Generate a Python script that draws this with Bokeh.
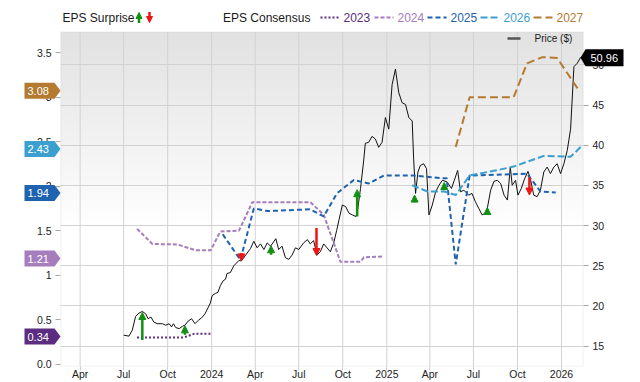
import numpy as np
import pandas as pd
from bokeh.plotting import figure
from bokeh.models import (Range1d, LinearAxis, FixedTicker, Grid, Label, Arrow,
                          NormalHead, ColumnDataSource, BoxAnnotation)
from bokeh.core.properties import value
from bokeh.embed import file_html
from bokeh.resources import INLINE

FONT = "Liberation Sans"

# ---------------- data ----------------
x_start = "2023-02-19"
x_end = "2026-02-16"

x_tick_dates = ["2023-04-01", "2023-07-01", "2023-10-01", "2024-01-01", "2024-04-01", "2024-07-01",
                "2024-10-01", "2025-01-01", "2025-04-01", "2025-07-01", "2025-10-01", "2026-01-01"]
x_tick_labels = ["Apr", "Jul", "Oct", "2024", "Apr", "Jul", "Oct", "2025", "Apr", "Jul", "Oct", "2026"]

eps_ticks = [0, 0.5, 1, 1.5, 2, 2.5, 3, 3.5]
eps_tick_labels = ["0.0", "0.5", "1", "1.5", "2", "2.5", "3", "3.5"]
price_ticks = [15, 20, 25, 30, 35, 40, 45, 50]

eps_min, eps_max = -0.027, 3.73
price_min, price_max = 12.45, 54.08

price_dates = [
    "2023-07-01", "2023-07-12", "2023-07-19", "2023-07-26", "2023-08-02", "2023-08-09", "2023-08-16",
    "2023-08-21", "2023-08-27", "2023-09-02", "2023-09-09", "2023-09-20", "2023-09-27", "2023-10-04",
    "2023-10-09", "2023-10-13", "2023-10-18", "2023-10-25", "2023-11-01", "2023-11-06", "2023-11-13",
    "2023-11-20", "2023-11-27", "2023-12-04", "2023-12-11", "2023-12-18", "2023-12-25", "2023-12-29",
    "2024-01-02", "2024-01-09", "2024-01-14", "2024-01-19", "2024-01-25", "2024-01-30", "2024-02-02",
    "2024-02-09", "2024-02-16", "2024-02-27", "2024-03-03", "2024-03-12", "2024-03-22", "2024-03-29",
    "2024-04-05", "2024-04-12", "2024-04-19", "2024-04-26", "2024-05-03", "2024-05-14", "2024-05-20",
    "2024-05-27", "2024-06-03", "2024-06-10", "2024-06-17", "2024-06-24", "2024-07-01", "2024-07-11",
    "2024-07-19", "2024-07-25", "2024-08-01", "2024-08-08", "2024-08-15", "2024-08-22", "2024-08-29",
    "2024-09-05", "2024-09-12", "2024-09-18", "2024-09-23", "2024-09-30", "2024-10-07", "2024-10-14",
    "2024-10-21", "2024-10-28", "2024-10-31", "2024-11-07", "2024-11-14", "2024-11-17", "2024-11-24",
    "2024-12-01", "2024-12-08", "2024-12-15", "2024-12-22", "2024-12-29", "2025-01-05", "2025-01-12",
    "2025-01-19", "2025-01-26", "2025-02-02", "2025-02-09", "2025-02-16", "2025-02-23", "2025-02-26",
    "2025-03-02", "2025-03-07", "2025-03-12", "2025-03-19", "2025-03-25", "2025-03-30", "2025-04-06",
    "2025-04-13", "2025-04-20", "2025-04-27", "2025-05-07", "2025-05-16", "2025-05-22", "2025-05-29",
    "2025-06-04", "2025-06-11", "2025-06-21", "2025-06-28", "2025-07-05", "2025-07-12", "2025-07-19",
    "2025-07-26", "2025-07-30", "2025-08-06", "2025-08-13", "2025-08-20", "2025-08-27", "2025-09-03",
    "2025-09-10", "2025-09-16", "2025-09-20", "2025-09-27", "2025-10-02", "2025-10-09", "2025-10-16",
    "2025-10-23", "2025-10-28", "2025-11-04", "2025-11-11", "2025-11-18", "2025-11-25", "2025-12-02",
    "2025-12-09", "2025-12-16", "2025-12-23", "2025-12-30", "2026-01-06", "2026-01-13", "2026-01-20",
    "2026-01-27", "2026-02-03", "2026-02-10"]
price_values = [
    16.35, 16.23, 16.97, 18.69, 19.10, 19.31, 19.01, 18.40, 18.61, 17.99, 17.78, 17.78, 17.59, 17.78,
    17.38, 17.78, 17.29, 17.17, 17.46, 17.59, 18.12, 18.40, 17.78, 18.20, 18.52, 19.01, 19.84, 20.33,
    21.28, 21.56, 21.69, 22.51, 23.13, 23.33, 24.03, 24.15, 24.98, 25.66, 25.59, 26.33, 27.14, 28.05,
    27.23, 27.72, 27.02, 27.84, 27.44, 28.37, 27.02, 27.44, 26.00, 25.79, 26.33, 27.23, 27.02, 27.84,
    28.25, 27.72, 28.13, 26.33, 26.74, 27.72, 27.23, 26.74, 27.84, 29.36, 30.71, 32.56, 32.36, 31.54,
    31.33, 31.13, 31.54, 34.62, 38.31, 40.25, 40.37, 41.11, 40.78, 39.75, 40.37, 43.45, 42.01, 47.55,
    49.48, 46.53, 45.30, 45.09, 43.45, 43.03, 38.31, 34.00, 36.67, 37.49, 37.70, 37.08, 31.33, 32.56,
    34.21, 35.02, 35.64, 35.44, 34.62, 35.64, 36.87, 34.21, 34.41, 33.79, 34.00, 32.98, 32.16, 31.33,
    31.54, 32.16, 34.41, 35.52, 35.64, 35.23, 33.79, 33.18, 37.29, 35.02, 35.64, 33.79, 34.62, 35.85,
    36.75, 35.85, 33.79, 33.60, 34.41, 36.67, 37.29, 36.47, 37.29, 37.70, 36.47, 37.70, 39.34, 42.01,
    49.80, 50.22, 50.96]

cons_years = ["2023", "2024", "2025", "2026", "2027"]
cons_colors = ["#5b2c80", "#a67dbd", "#1f62ae", "#3b9fd0", "#b37a30"]
cons_dashes = ["2 2", "4 2", "5 3", "7 3", "8 4"]
cons_latest = [0.34, 1.21, 1.94, 2.43, 3.08]

eps2023_dates = ["2023-07-29", "2023-11-04", "2023-11-25", "2023-12-30"]
eps2023_values = [0.30, 0.30, 0.34, 0.34]

eps2024_dates = ["2023-07-29", "2023-08-30", "2023-10-21", "2023-11-28", "2023-12-30", "2024-01-19",
                 "2024-02-27", "2024-03-26", "2024-07-25", "2024-08-22", "2024-09-26", "2024-11-07",
                 "2024-11-14", "2024-12-25"]
eps2024_values = [1.52, 1.35, 1.345, 1.28, 1.28, 1.49, 1.50, 1.82, 1.82, 1.68, 1.15, 1.15, 1.20, 1.21]

eps2025_dates = ["2024-01-24", "2024-03-01", "2024-03-29", "2024-04-26", "2024-07-25", "2024-08-22",
                 "2024-09-19", "2024-10-24", "2024-11-24", "2024-12-26", "2025-02-26", "2025-04-23",
                 "2025-05-06", "2025-05-25", "2025-06-23", "2025-10-21", "2025-11-18", "2025-12-20"]
eps2025_values = [1.46, 1.17, 1.75, 1.72, 1.74, 1.66, 1.92, 2.07, 2.03, 2.12, 2.12, 2.09,
                  2.09, 1.12, 2.12, 2.14, 1.94, 1.93]

eps2026_dates = ["2025-02-23", "2025-03-27", "2025-05-01", "2025-05-25", "2025-06-23", "2025-08-20",
                 "2025-09-23", "2025-11-25", "2026-01-20", "2026-02-10"]
eps2026_values = [2.01, 1.94, 1.94, 1.90, 2.12, 2.18, 2.22, 2.34, 2.33, 2.44]

eps2027_dates = ["2025-05-25", "2025-06-23", "2025-09-23", "2025-10-21", "2025-11-22", "2025-12-23",
                 "2026-02-06"]
eps2027_values = [2.44, 3.00, 3.00, 3.38, 3.45, 3.44, 3.08]

surprise_dates = ["2023-08-09", "2023-11-06", "2024-03-03", "2024-05-04", "2024-08-07", "2024-10-31",
                  "2025-02-28", "2025-05-01", "2025-07-30", "2025-10-26"]
surprise_est = [0.27, 0.33, 1.25, 1.23, 1.53, 1.66, 1.82, 1.96, 1.68, 2.10]
surprise_act = [0.58, 0.43, 1.16, 1.33, 1.22, 1.96, 1.90, 2.04, 1.76, 1.90]

GREEN = "#119111"
RED = "#f01414"


def ms(d):
    return pd.Timestamp(d).value / 1e6


# ---------------- geometry ----------------
W, H = 640, 382
BL, BR, BT, BB = 60, 57, 0, 13
FW = W - BL - BR            # 523
FH = H - BT - BB            # 369
STRIP = 32                  # white legend strip at the top of the frame
BOX_H = FH - STRIP          # height of the shaded chart box
px_eps = BOX_H / (eps_max - eps_min)
px_price = BOX_H / (price_max - price_min)
eps_top = eps_max + STRIP / px_eps
price_top = price_max + STRIP / px_price

p = figure(width=W, height=H, min_border_left=BL, min_border_right=BR, min_border_top=BT,
           min_border_bottom=BB, x_axis_type="datetime",
           x_range=Range1d(ms(x_start), ms(x_end)), y_range=Range1d(eps_min, eps_top),
           output_backend="svg", toolbar_location=None)
p.background_fill_color = "white"
p.border_fill_color = "white"
p.outline_line_color = None
p.extra_y_ranges = {"price": Range1d(price_min, price_top)}

# background gradient (light gray at top fading to white) inside the chart box
rows = 240
t = np.linspace(0, 1, rows)
g = np.where(t < 0.42, 255, 255 - (255 - 226) * ((t - 0.42) / 0.58)).astype(np.uint8)
img = np.empty((rows, 1), dtype=np.uint32)
view = img.view(dtype=np.uint8).reshape((rows, 1, 4))
view[:, 0, 0] = g
view[:, 0, 1] = g
view[:, 0, 2] = g
view[:, 0, 3] = 255
p.image_rgba(image=[img], x=ms(x_start), y=eps_min, dw=ms(x_end) - ms(x_start),
             dh=eps_max - eps_min, level="image")

# axes
xt = [ms(d) for d in x_tick_dates]
p.xaxis.ticker = FixedTicker(ticks=xt)
p.xaxis.major_label_overrides = {k: v for k, v in zip(xt, x_tick_labels)}
p.yaxis.ticker = FixedTicker(ticks=eps_ticks)
p.yaxis.major_label_overrides = {k: v for k, v in zip(eps_ticks, eps_tick_labels)}

ax_r = LinearAxis(y_range_name="price", ticker=FixedTicker(ticks=price_ticks))
p.add_layout(ax_r, "right")

for ax in [p.xaxis[0], p.yaxis[0], ax_r]:
    ax.axis_line_color = None
    ax.major_tick_line_color = "#a8a8a8"
    ax.minor_tick_line_color = None
    ax.major_tick_in = 0
    ax.major_tick_out = 5
    ax.major_label_standoff = 4
    ax.major_label_text_font = FONT
    ax.major_label_text_font_size = "10.5px"
    ax.major_label_text_color = "#222222"
p.xaxis.major_tick_line_color = "#cfcfcf"
p.xaxis.major_tick_out = 4
p.xaxis.major_label_standoff = -3

# grids
p.xgrid.visible = False
p.ygrid.visible = False
p.segment(x0=xt, y0=[eps_min] * len(xt), x1=xt, y1=[eps_max] * len(xt),
          line_color="#d2d2d2", line_width=1, level="underlay")
p.add_layout(Grid(dimension=1, ticker=FixedTicker(ticks=price_ticks), y_range_name="price",
                  grid_line_color="#d2d2d2"))
p.add_layout(BoxAnnotation(left=ms(x_start), right=ms(x_end), bottom=eps_min, top=eps_max,
                           fill_alpha=0, line_color="#c4c4c4", line_width=1.5, level="underlay"))

# price line
p.line(x=[ms(d) for d in price_dates], y=price_values, y_range_name="price",
       line_color="#111111", line_width=1)

# consensus lines
series = [(eps2023_dates, eps2023_values), (eps2024_dates, eps2024_values),
          (eps2025_dates, eps2025_values), (eps2026_dates, eps2026_values),
          (eps2027_dates, eps2027_values)]
for (dates, vals), col, dash in zip(series, cons_colors, cons_dashes):
    p.line(x=[ms(d) for d in dates], y=vals, line_color=col, line_dash=dash, line_width=2)

# surprise arrows
for good, col in [(True, GREEN), (False, RED)]:
    idx = [i for i in range(len(surprise_dates)) if (surprise_act[i] > surprise_est[i]) == good]
    src = ColumnDataSource(dict(x=[ms(surprise_dates[i]) for i in idx],
                                y0=[surprise_est[i] for i in idx],
                                y1=[surprise_act[i] for i in idx]))
    p.add_layout(Arrow(x_start="x", y_start="y0", x_end="x", y_end="y1", source=src,
                       line_color=col, line_width=2.5,
                       end=NormalHead(size=7, fill_color=col, line_color=col, line_width=1)))

# top legend row (inside the white strip of the frame)
LY = FH - 20
p.add_layout(Label(x=2, y=LY, x_units="screen", y_units="screen", text="EPS Surprise",
                   text_baseline="middle", text_font=FONT, text_font_size="12px",
                   text_color="#1a1a1a"))
p.add_layout(Arrow(x_start=78.5, y_start=LY - 5.5, x_end=78.5, y_end=LY + 5,
                   start_units="screen", end_units="screen", line_color=GREEN, line_width=2.5,
                   end=NormalHead(size=6, fill_color=GREEN, line_color=GREEN, line_width=1)))
p.add_layout(Arrow(x_start=89, y_start=LY + 5.5, x_end=89, y_end=LY - 5,
                   start_units="screen", end_units="screen", line_color=RED, line_width=2.5,
                   end=NormalHead(size=6, fill_color=RED, line_color=RED, line_width=1)))
p.add_layout(Label(x=162.5, y=LY, x_units="screen", y_units="screen", text="EPS Consensus",
                   text_baseline="middle", text_font=FONT, text_font_size="12px",
                   text_color="#1a1a1a"))
sw_x = [260, 314, 367, 420, 473]
for sx, yr, col, dash in zip(sw_x, cons_years, cons_colors, cons_dashes):
    p.add_layout(Arrow(x_start=sx, y_start=LY, x_end=sx + 19, y_end=LY, start_units="screen",
                       end_units="screen", start=None, end=None, line_color=col,
                       line_dash=dash, line_width=2))
    p.add_layout(Label(x=sx + 23, y=LY, x_units="screen", y_units="screen", text=yr,
                       text_baseline="middle", text_font=FONT, text_font_size="12px",
                       text_color=col))

# price legend inside the chart box
PY = FH - 41
p.add_layout(Arrow(x_start=447, y_start=PY, x_end=460, y_end=PY, start_units="screen",
                   end_units="screen", start=None, end=None, line_color="#555555", line_width=2.5))
p.add_layout(Label(x=474, y=PY, x_units="screen", y_units="screen", text="Price ($)",
                   text_baseline="middle", text_font=FONT, text_font_size="10px",
                   text_color="#1a1a1a"))

# ---------------- overlay for the value tags outside the frame ----------------
box_bottom = BT + FH                       # canvas y of eps_min / price_min
ov_eps = Range1d(eps_min - (H - box_bottom) / px_eps, eps_max + (BT + STRIP) / px_eps)
ov_price = Range1d(price_min - (H - box_bottom) / px_price, price_max + (BT + STRIP) / px_price)
ov = figure(width=W, height=H, min_border=0, min_border_left=0, min_border_right=0,
            min_border_top=0, min_border_bottom=0, x_range=Range1d(0, W), y_range=ov_eps,
            x_axis_location=None, y_axis_location=None, output_backend="svg",
            toolbar_location=None, tools="")
ov.extra_y_ranges = {"price": ov_price}
ov.grid.visible = False
ov.outline_line_color = None
ov.background_fill_alpha = 0
ov.border_fill_alpha = 0
ov.styles = {"position": "absolute", "left": "0px", "top": "0px", "z-index": "5",
             "pointer-events": "none"}

th = 8 / px_eps
ov.patches(xs=[[24, 54, 60, 54, 24] for _ in cons_latest],
           ys=[[v + th, v + th, v, v - th, v - th] for v in cons_latest],
           fill_color=cons_colors, line_color=None)
ov.text(x=[27] * len(cons_latest), y=cons_latest, text=[f"{v:.2f}" for v in cons_latest],
        text_baseline="middle", text_align="left", text_font=value(FONT),
        text_font_size="11px", text_color="white")

last = price_values[-1]
ph = 8.5 / px_price
ov.patch(x=[580, 585, 623, 623, 585], y=[last, last + ph, last + ph, last - ph, last - ph],
         y_range_name="price", fill_color="#000000", line_color=None)
ov.text(x=[590], y=[last], text=[f"{last:.2f}"], y_range_name="price", text_baseline="middle",
        text_align="left", text_font=value(FONT), text_font_size="11px", text_color="white")

open("out.html", "w").write(file_html([p, ov], INLINE))
